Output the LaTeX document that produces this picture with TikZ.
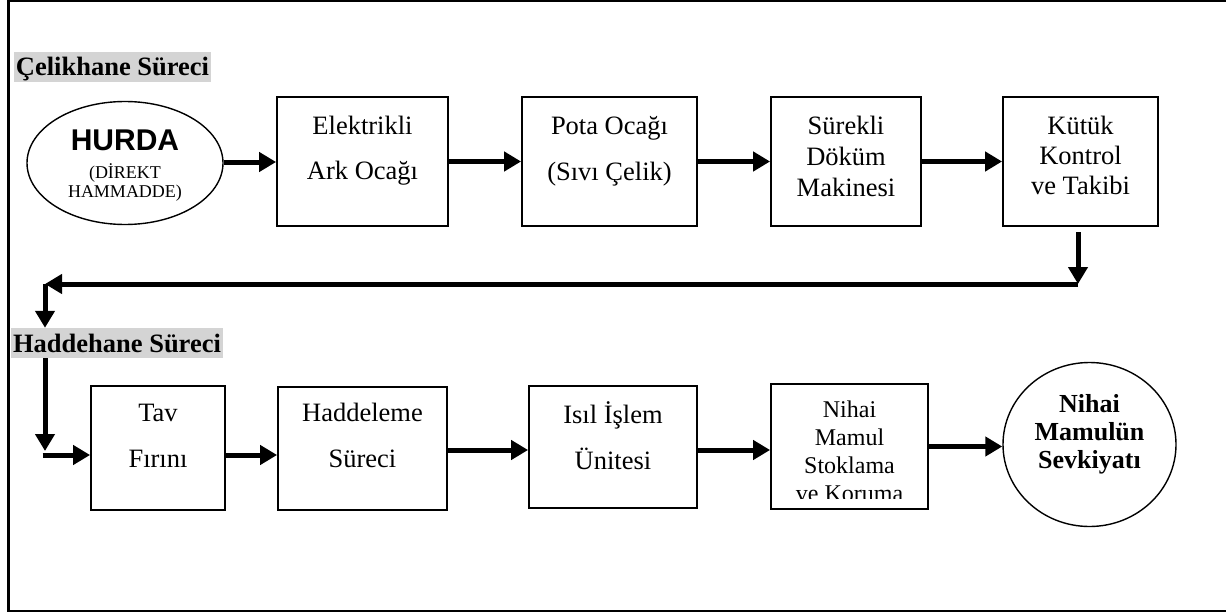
\documentclass[tikz,border=0pt]{standalone}
\usepackage{fontspec}
\setmainfont{Liberation Serif}
\newfontfamily\arialfont{Liberation Sans}
\usetikzlibrary{arrows.meta,positioning,shapes.geometric}

\begin{document}
\begin{tikzpicture}[x=1pt,y=-1pt,
    flow/.style={line width=5pt,-{Triangle[length=17pt,width=19pt]}},
    prcbox/.style={draw,line width=1.8pt,minimum height=129pt,inner sep=0pt},
    prctext/.style={align=center,inner sep=0pt,font=\fontsize{26.5}{30}\selectfont},
    phase/.style={fill=black!17,inner xsep=2pt,inner ysep=0pt,minimum height=30pt,
      text height=20pt,text depth=2pt,font=\fontsize{26.5}{30}\selectfont\bfseries}]
        \useasboundingbox (0,0) rectangle (1226,615);
        \draw[line width=2.5pt] (1226,1.25) -- (8.25,1.25) -- (8.25,611) -- (1226,611);
        % steel shop row
        \node[phase] (l1) at (112.5,67) {Çelikhane Süreci};
        \node[draw,ellipse,line width=1.4pt,minimum width=196pt,minimum height=123pt] (r1c1) at (125,163) {};
        \node[prctext,font=\fontsize{18}{19.5}\selectfont,below=29pt of r1c1.north] (r1c1t)
          {{\arialfont\bfseries\fontsize{30}{30}\selectfont HURDA}\\[8pt](DİREKT\\HAMMADDE)};
        \node[prcbox,minimum width=171pt] (r1c2) at (362.5,161.5) {};
        \node[prcbox,minimum width=175pt] (r1c3) at (609.5,161.5) {};
        \node[prcbox,minimum width=150pt] (r1c4) at (846,161.5) {};
        \node[prcbox,minimum width=155pt] (r1c5) at (1080.5,161.5) {};
        \node[prctext,below=20pt of r1c2.north] (r1c2t) {Elektrikli\\[15pt]Ark Ocağı};
        \node[prctext,below=20pt of r1c3.north] (r1c3t) {Pota Ocağı\\[16pt](Sıvı Çelik)};
        \node[prctext,below=20pt of r1c4.north] (r1c4t) {Sürekli\\[1pt]Döküm\\[1pt]Makinesi};
        \node[prctext,below=20pt of r1c5.north] (r1c5t) {Kütük\\Kontrol\\ve Takibi};
        % rolling mill row
        \node[phase] (l2) at (117,343) {Haddehane Süreci};
        \node[prcbox,minimum width=134pt,minimum height=124pt] (r2c1) at (158,448) {};
        \node[prcbox,minimum width=169pt,minimum height=123pt] (r2c2) at (362.5,448.5) {};
        \node[prcbox,minimum width=168pt,minimum height=122pt] (r2c3) at (613,447) {};
        \node[prcbox,minimum width=157pt,minimum height=125pt] (r2c4) at (849.5,446.5) {};
        \node[draw,ellipse,line width=1.4pt,minimum width=173pt,minimum height=164pt] (r2c5) at (1089.5,444.5) {};
        \node[prctext,below=18.5pt of r2c1.north] (r2c1t) {Tav\\[16pt]Fırını};
        \node[prctext,below=17pt of r2c2.north] (r2c2t) {Haddeleme\\[16pt]Süreci};
        \node[prctext,below=16pt of r2c3.north] (r2c3t) {Isıl İşlem\\[16pt]Ünitesi};
        \begin{scope}
          \clip (r2c4.north west) rectangle ([yshift=11.5pt]r2c4.south east);
          \node[prctext,font=\fontsize{24}{28}\selectfont,below=17.5pt of r2c4.north] (r2c4t)
            {Nihai\\Mamul\\Stoklama\\ve Koruma};
        \end{scope}
        \node[prctext,font=\fontsize{26}{28}\selectfont\bfseries,below=32pt of r2c5.north] (r2c5t)
          {Nihai\\Mamulün\\Sevkiyatı};
        % connectors
        \coordinate (drop) at (1078,232);
        \coordinate (turnR) at (1078,284);
        \coordinate (turnL) at (45,284);
        \coordinate (entry) at (45,455);
        \draw[flow] ([yshift=1pt]r1c1.east) -- ([yshift=1pt]r1c1.east -| r1c2.west);
        \draw[flow] (r1c2.east) -- (r1c3.west);
        \draw[flow] (r1c3.east) -- (r1c4.west);
        \draw[flow] (r1c4.east) -- (r1c5.west);
        \draw[flow] (drop) -- (turnR);
        \draw[flow] (turnR) -- (turnL);
        \draw[flow] (turnL) -- (turnL |- l2.north);
        \draw[flow] (turnL |- l2.south) -- ([yshift=4pt]entry);
        \draw[flow] ([xshift=-2.5pt]entry) -- (entry -| r2c1.west);
        \draw[flow] ([yshift=-7pt]r2c1.east) -- ([yshift=-7pt]r2c1.east -| r2c2.west);
        \draw[flow] ([yshift=-1.5pt]r2c2.east) -- ([yshift=-1.5pt]r2c2.east -| r2c3.west);
        \draw[flow] ([yshift=-3pt]r2c3.east) -- ([yshift=-3pt]r2c3.east -| r2c4.west);
        \draw[flow] (r2c4.east) -- (r2c4.east -| r2c5.west);
\end{tikzpicture}
\end{document}
